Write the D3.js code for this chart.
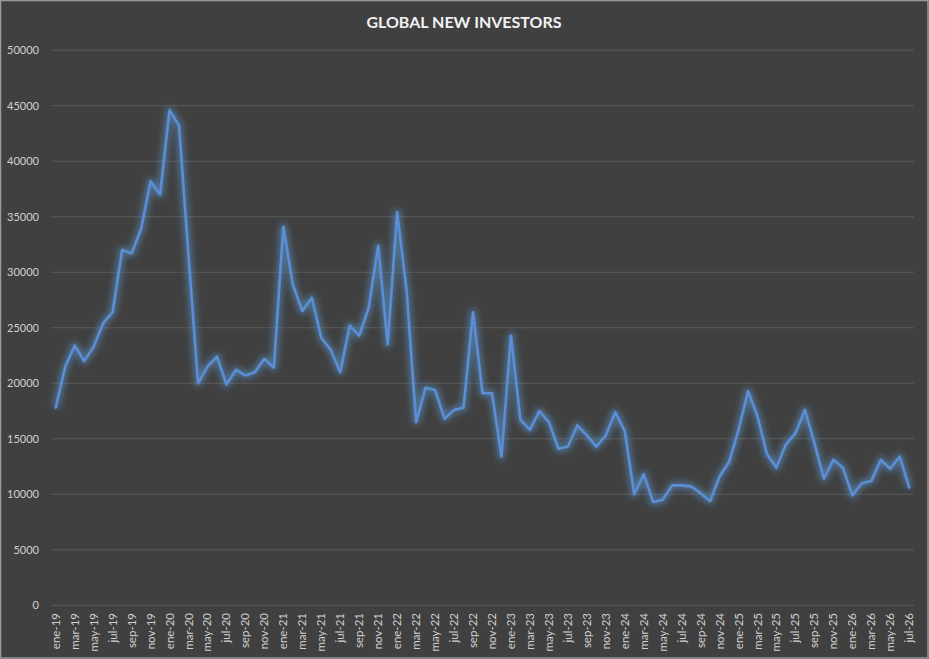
<!DOCTYPE html>
<html>
<head>
<meta charset="utf-8">
<script src="https://cdn.jsdelivr.net/npm/d3@7"></script>
<style>
  html, body { margin: 0; padding: 0; background: #404040; }
  svg { display: block; }
</style>
</head>
<body>
<svg id="chart" width="929" height="659"></svg>
<script>
const months = ["ene","feb","mar","abr","may","jun","jul","ago","sep","oct","nov","dic"];
const years = ["19","20","21","22","23","24","25","26"];
const categories = [];
years.forEach(y => months.forEach(m => categories.push(m + "-" + y)));
categories.splice(91); // ene-19 .. jul-26

const values = [
  17800, 21500, 23400, 22000, 23300, 25400, 26400, 32000, 31700, 33900, 38200, 37000,
  44600, 43200, 31500, 20000, 21500, 22400, 19900, 21200, 20700, 21000, 22200, 21400,
  34100, 28900, 26500, 27700, 24100, 23000, 21000, 25200, 24300, 26800, 32400, 23500,
  35400, 28300, 16500, 19600, 19400, 16800, 17600, 17800, 26400, 19100, 19100, 13400,
  24300, 16700, 15800, 17500, 16500, 14100, 14300, 16200, 15300, 14300, 15300, 17400,
  15700, 10000, 11800, 9300, 9500, 10800, 10800, 10700, 10100, 9400, 11600, 12900,
  15800, 19300, 17000, 13600, 12400, 14500, 15500, 17600, 14600, 11400, 13100, 12400,
  9900, 11000, 11200, 13100, 12300, 13400, 10600
];
const tickLabels = categories.filter((d, i) => i % 2 === 0);
const yTicks = [0,5000,10000,15000,20000,25000,30000,35000,40000,45000,50000];
const title = "GLOBAL NEW INVESTORS";

const svg = d3.select("#chart");
const W = 929, H = 659;
const plot = { left: 51, right: 914, top: 50.2, bottom: 605.3 };

svg.append("rect").attr("x", 0).attr("y", 0).attr("width", W).attr("height", H).attr("fill", "#404040");
svg.append("rect").attr("x", 0.5).attr("y", 0.5).attr("width", W - 1.5).attr("height", H - 1.5)
  .attr("fill", "none").attr("stroke", "#9a9a9a").attr("stroke-width", 1.5);

const x = d3.scaleBand().domain(categories).range([plot.left, plot.right]);
const y = d3.scaleLinear().domain([0, 50000]).range([plot.bottom, plot.top]);
const cx = d => x(d) + x.bandwidth() / 2;

// Gridlines
svg.append("g").selectAll("line").data(yTicks).join("line")
  .attr("x1", plot.left).attr("x2", plot.right)
  .attr("y1", d => y(d)).attr("y2", d => y(d))
  .attr("stroke", "#5a5a5a").attr("stroke-width", 1);

// Y labels
svg.append("g").selectAll("text").data(yTicks).join("text")
  .attr("x", 39).attr("y", d => y(d)).attr("dy", "0.35em")
  .attr("text-anchor", "end")
  .attr("font-family", "Lato, 'Open Sans', sans-serif").attr("font-size", 11)
  .attr("fill", "#d0d0d0")
  .text(d => d);

// X labels
svg.append("g").selectAll("text").data(tickLabels).join("text")
  .attr("transform", d => `translate(${cx(d) + 4},613) rotate(-90)`)
  .attr("text-anchor", "end")
  .attr("font-family", "Lato, 'Open Sans', sans-serif").attr("font-size", 11.5)
  .attr("fill", "#d0d0d0")
  .text(d => d);

// Title
svg.append("text").attr("x", 464).attr("y", 28).attr("text-anchor", "middle")
  .attr("font-family", "Lato, 'Open Sans', sans-serif").attr("font-weight", "bold")
  .attr("font-size", 16).attr("fill", "#f2f2f2").text(title);

// Glow filter
const defs = svg.append("defs");
const f = defs.append("filter").attr("id", "glow").attr("x", "-10%").attr("y", "-10%").attr("width", "120%").attr("height", "120%");
f.append("feGaussianBlur").attr("stdDeviation", 3);

const line = d3.line().x((d, i) => cx(categories[i])).y(d => y(d));

svg.append("path").datum(values).attr("d", line)
  .attr("fill", "none").attr("stroke", "#5b9bd5").attr("stroke-opacity", 0.55)
  .attr("stroke-width", 7).attr("stroke-linejoin", "round").attr("filter", "url(#glow)");

svg.append("path").datum(values).attr("d", line)
  .attr("fill", "none").attr("stroke", "#5b8ed6").attr("stroke-width", 2.6)
  .attr("stroke-linejoin", "round").attr("stroke-linecap", "round");
</script>
</body>
</html>
